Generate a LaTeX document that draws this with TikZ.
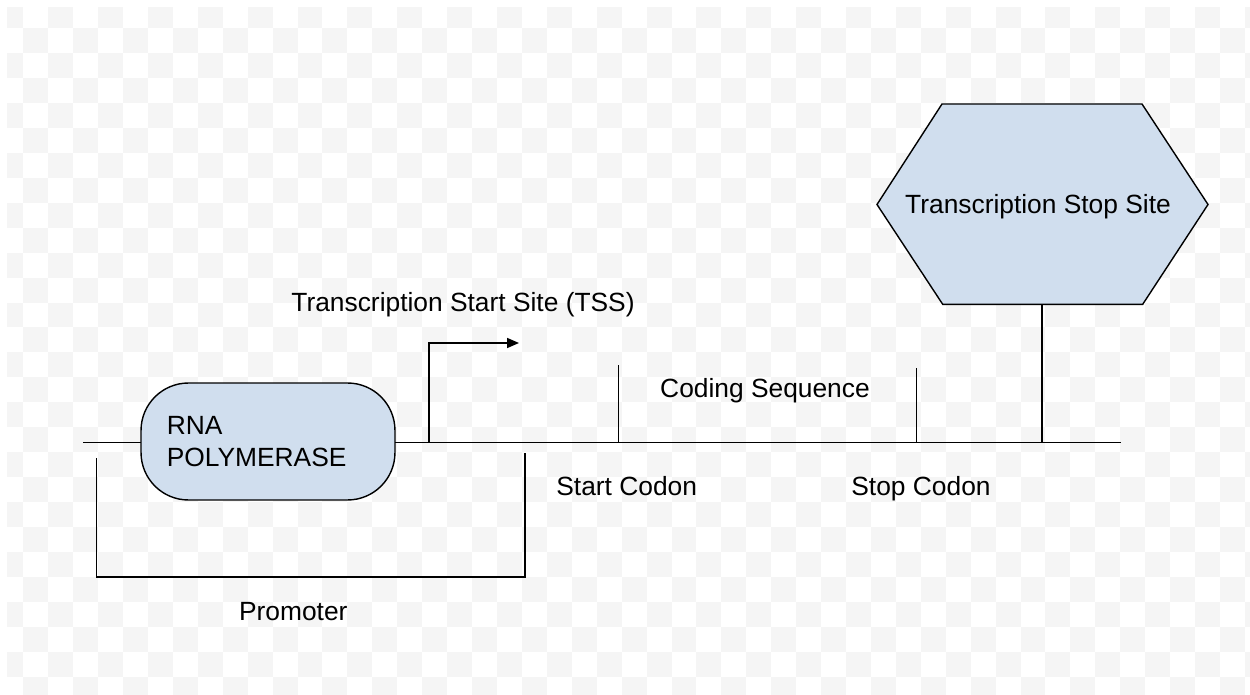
\documentclass[tikz,border=0pt]{standalone}
\usepackage{fontspec}
\setmainfont{Liberation Sans}
\usetikzlibrary{arrows.meta}

\definecolor{boxblue}{RGB}{208,222,238}
\definecolor{checker}{RGB}{245,245,245}

\tikzset{
    strand/.style={line width=0.8pt},
    txt/.style={font=\fontsize{15}{18.7}\selectfont, inner sep=0pt, anchor=base},
    polybox/.style={draw, line width=0.8pt, fill=boxblue, rounded corners=27pt,
        minimum width=5.08cm, minimum height=2.34cm, text width=4.05cm, align=left,
        inner sep=0pt, font=\fontsize{15}{18.7}\selectfont},
    tssarrow/.style={line width=0.8pt, -{Triangle[length=6.8pt,width=5.7pt]}}
}

\begin{document}
\begin{tikzpicture}[x=0.02cm, y=-0.02cm]
            \useasboundingbox (0,0) rectangle (1250,695);

            % background tiles
            \begin{scope}
                \clip (7,8) rectangle (1250,695);
                \foreach \i in {0,2,...,50}{
                    \foreach \j in {0,2,...,28}{
                        \fill[checker] ({-1.6+\i*24.93},{3.4+\j*24.93}) rectangle ++(24.93,24.93);
                        \fill[checker] ({-1.6+(\i+1)*24.93},{3.4+(\j+1)*24.93}) rectangle ++(24.93,24.93);
                    }
                }
            \end{scope}

            \coordinate (lineL) at (83,442.5);
            \coordinate (lineR) at (1121,442.5);
            \coordinate (tss) at (429,442.5);
            \coordinate (tssend) at (519,343);
            \coordinate (startcodon) at (618.3,442.5);
            \coordinate (starttop) at (618.3,365);
            \coordinate (stopcodon) at (916.7,442.5);
            \coordinate (stoptop) at (916.7,368.3);
            \coordinate (stopfoot) at (1042,442.5);

            \coordinate (promA) at (96.7,458.3);
            \coordinate (promB) at (96.7,577);
            \coordinate (promC) at (525,577);
            \coordinate (promD) at (525,452.7);

            \coordinate (hexW) at (877,204.5);
            \coordinate (hexNW) at (942,104);
            \coordinate (hexNE) at (1142,104);
            \coordinate (hexE) at (1208,204.5);
            \coordinate (hexSE) at (1142.7,304.3);
            \coordinate (hexSW) at (942.7,304.3);
            \coordinate (hexS) at (1042,304.3);

            \draw[strand] (lineL) -- (lineR);
            \draw[strand] (startcodon) -- (starttop);
            \draw[strand] (stopcodon) -- (stoptop);
            \draw[strand] (hexS) -- (stopfoot);
            \draw[tssarrow] (tss) |- (tssend);
            \draw[strand] (promA) -- (promB) -- (promC) -- (promD);

            \node[polybox] (poly) at (268,441.5) {RNA\\POLYMERASE};
            \filldraw[strand, fill=boxblue] (hexW) -- (hexNW) -- (hexNE) -- (hexE) -- (hexSE) -- (hexSW) -- cycle;

            \node[txt] (tsslabel) at (463,312) {Transcription Start Site (TSS)};
            \node[txt] (coding) at (765,397.7) {Coding Sequence};
            \node[txt] (startlabel) at (626.7,495) {Start Codon};
            \node[txt] (stoplabel) at (921,495) {Stop Codon};
            \node[txt] (promoter) at (293.3,620) {Promoter};
            \node[txt] (stopsite) at (1038,213.3) {Transcription Stop Site};

        \end{tikzpicture}
\end{document}
